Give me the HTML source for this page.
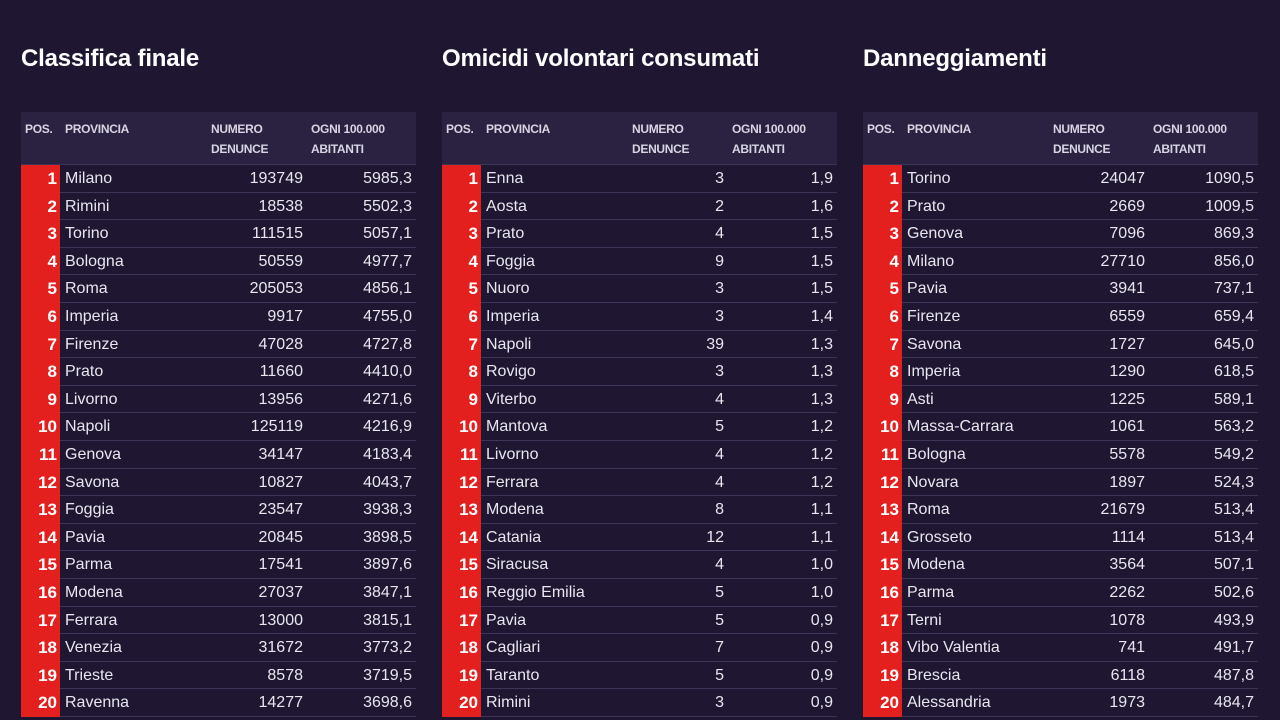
<!DOCTYPE html>
<html><head><meta charset="utf-8"><style>
body{margin:0;width:1280px;height:720px;background:#1f1731;overflow:hidden;font-family:"Liberation Sans",sans-serif;color:#e8e6ef;position:relative}
h2{position:absolute;top:45px;margin:0;font-size:24px;font-weight:bold;color:#fff;letter-spacing:-0.2px}
.t{position:absolute;top:112px;width:395px}
.hd{height:52px;background:#2a2240;position:relative;font-size:12px;font-weight:bold;color:#d8d4e4;border-bottom:1px solid #3d3558}
.hd span{position:absolute;top:7px;line-height:20px;letter-spacing:-0.3px}
.r{height:26.6px;border-bottom:1px solid #3d3558;position:relative;font-size:16px;line-height:28px}
.r b{position:absolute;left:0;top:0;width:39px;height:27.6px;background:#e4201f;text-align:right;padding-right:3px;box-sizing:border-box;color:#fff;font-size:17px}
.r .n{position:absolute;left:44px}
.r .a{position:absolute;right:113px}
.r .c{position:absolute;right:4px}
</style></head><body>
<h2 style="left:21px">Classifica finale</h2>
<h2 style="left:442px">Omicidi volontari consumati</h2>
<h2 style="left:863px">Danneggiamenti</h2>

<div class="t" style="left:21px">
<div class="hd"><span style="left:4px">POS.</span><span style="left:44px">PROVINCIA</span><span style="left:190px">NUMERO<br>DENUNCE</span><span style="left:290px">OGNI 100.000<br>ABITANTI</span></div>
<div class="r"><b>1</b><span class="n">Milano</span><span class="a">193749</span><span class="c">5985,3</span></div>
<div class="r"><b>2</b><span class="n">Rimini</span><span class="a">18538</span><span class="c">5502,3</span></div>
<div class="r"><b>3</b><span class="n">Torino</span><span class="a">111515</span><span class="c">5057,1</span></div>
<div class="r"><b>4</b><span class="n">Bologna</span><span class="a">50559</span><span class="c">4977,7</span></div>
<div class="r"><b>5</b><span class="n">Roma</span><span class="a">205053</span><span class="c">4856,1</span></div>
<div class="r"><b>6</b><span class="n">Imperia</span><span class="a">9917</span><span class="c">4755,0</span></div>
<div class="r"><b>7</b><span class="n">Firenze</span><span class="a">47028</span><span class="c">4727,8</span></div>
<div class="r"><b>8</b><span class="n">Prato</span><span class="a">11660</span><span class="c">4410,0</span></div>
<div class="r"><b>9</b><span class="n">Livorno</span><span class="a">13956</span><span class="c">4271,6</span></div>
<div class="r"><b>10</b><span class="n">Napoli</span><span class="a">125119</span><span class="c">4216,9</span></div>
<div class="r"><b>11</b><span class="n">Genova</span><span class="a">34147</span><span class="c">4183,4</span></div>
<div class="r"><b>12</b><span class="n">Savona</span><span class="a">10827</span><span class="c">4043,7</span></div>
<div class="r"><b>13</b><span class="n">Foggia</span><span class="a">23547</span><span class="c">3938,3</span></div>
<div class="r"><b>14</b><span class="n">Pavia</span><span class="a">20845</span><span class="c">3898,5</span></div>
<div class="r"><b>15</b><span class="n">Parma</span><span class="a">17541</span><span class="c">3897,6</span></div>
<div class="r"><b>16</b><span class="n">Modena</span><span class="a">27037</span><span class="c">3847,1</span></div>
<div class="r"><b>17</b><span class="n">Ferrara</span><span class="a">13000</span><span class="c">3815,1</span></div>
<div class="r"><b>18</b><span class="n">Venezia</span><span class="a">31672</span><span class="c">3773,2</span></div>
<div class="r"><b>19</b><span class="n">Trieste</span><span class="a">8578</span><span class="c">3719,5</span></div>
<div class="r"><b>20</b><span class="n">Ravenna</span><span class="a">14277</span><span class="c">3698,6</span></div>
</div>

<div class="t" style="left:442px">
<div class="hd"><span style="left:4px">POS.</span><span style="left:44px">PROVINCIA</span><span style="left:190px">NUMERO<br>DENUNCE</span><span style="left:290px">OGNI 100.000<br>ABITANTI</span></div>
<div class="r"><b>1</b><span class="n">Enna</span><span class="a">3</span><span class="c">1,9</span></div>
<div class="r"><b>2</b><span class="n">Aosta</span><span class="a">2</span><span class="c">1,6</span></div>
<div class="r"><b>3</b><span class="n">Prato</span><span class="a">4</span><span class="c">1,5</span></div>
<div class="r"><b>4</b><span class="n">Foggia</span><span class="a">9</span><span class="c">1,5</span></div>
<div class="r"><b>5</b><span class="n">Nuoro</span><span class="a">3</span><span class="c">1,5</span></div>
<div class="r"><b>6</b><span class="n">Imperia</span><span class="a">3</span><span class="c">1,4</span></div>
<div class="r"><b>7</b><span class="n">Napoli</span><span class="a">39</span><span class="c">1,3</span></div>
<div class="r"><b>8</b><span class="n">Rovigo</span><span class="a">3</span><span class="c">1,3</span></div>
<div class="r"><b>9</b><span class="n">Viterbo</span><span class="a">4</span><span class="c">1,3</span></div>
<div class="r"><b>10</b><span class="n">Mantova</span><span class="a">5</span><span class="c">1,2</span></div>
<div class="r"><b>11</b><span class="n">Livorno</span><span class="a">4</span><span class="c">1,2</span></div>
<div class="r"><b>12</b><span class="n">Ferrara</span><span class="a">4</span><span class="c">1,2</span></div>
<div class="r"><b>13</b><span class="n">Modena</span><span class="a">8</span><span class="c">1,1</span></div>
<div class="r"><b>14</b><span class="n">Catania</span><span class="a">12</span><span class="c">1,1</span></div>
<div class="r"><b>15</b><span class="n">Siracusa</span><span class="a">4</span><span class="c">1,0</span></div>
<div class="r"><b>16</b><span class="n">Reggio Emilia</span><span class="a">5</span><span class="c">1,0</span></div>
<div class="r"><b>17</b><span class="n">Pavia</span><span class="a">5</span><span class="c">0,9</span></div>
<div class="r"><b>18</b><span class="n">Cagliari</span><span class="a">7</span><span class="c">0,9</span></div>
<div class="r"><b>19</b><span class="n">Taranto</span><span class="a">5</span><span class="c">0,9</span></div>
<div class="r"><b>20</b><span class="n">Rimini</span><span class="a">3</span><span class="c">0,9</span></div>
</div>

<div class="t" style="left:863px">
<div class="hd"><span style="left:4px">POS.</span><span style="left:44px">PROVINCIA</span><span style="left:190px">NUMERO<br>DENUNCE</span><span style="left:290px">OGNI 100.000<br>ABITANTI</span></div>
<div class="r"><b>1</b><span class="n">Torino</span><span class="a">24047</span><span class="c">1090,5</span></div>
<div class="r"><b>2</b><span class="n">Prato</span><span class="a">2669</span><span class="c">1009,5</span></div>
<div class="r"><b>3</b><span class="n">Genova</span><span class="a">7096</span><span class="c">869,3</span></div>
<div class="r"><b>4</b><span class="n">Milano</span><span class="a">27710</span><span class="c">856,0</span></div>
<div class="r"><b>5</b><span class="n">Pavia</span><span class="a">3941</span><span class="c">737,1</span></div>
<div class="r"><b>6</b><span class="n">Firenze</span><span class="a">6559</span><span class="c">659,4</span></div>
<div class="r"><b>7</b><span class="n">Savona</span><span class="a">1727</span><span class="c">645,0</span></div>
<div class="r"><b>8</b><span class="n">Imperia</span><span class="a">1290</span><span class="c">618,5</span></div>
<div class="r"><b>9</b><span class="n">Asti</span><span class="a">1225</span><span class="c">589,1</span></div>
<div class="r"><b>10</b><span class="n">Massa-Carrara</span><span class="a">1061</span><span class="c">563,2</span></div>
<div class="r"><b>11</b><span class="n">Bologna</span><span class="a">5578</span><span class="c">549,2</span></div>
<div class="r"><b>12</b><span class="n">Novara</span><span class="a">1897</span><span class="c">524,3</span></div>
<div class="r"><b>13</b><span class="n">Roma</span><span class="a">21679</span><span class="c">513,4</span></div>
<div class="r"><b>14</b><span class="n">Grosseto</span><span class="a">1114</span><span class="c">513,4</span></div>
<div class="r"><b>15</b><span class="n">Modena</span><span class="a">3564</span><span class="c">507,1</span></div>
<div class="r"><b>16</b><span class="n">Parma</span><span class="a">2262</span><span class="c">502,6</span></div>
<div class="r"><b>17</b><span class="n">Terni</span><span class="a">1078</span><span class="c">493,9</span></div>
<div class="r"><b>18</b><span class="n">Vibo Valentia</span><span class="a">741</span><span class="c">491,7</span></div>
<div class="r"><b>19</b><span class="n">Brescia</span><span class="a">6118</span><span class="c">487,8</span></div>
<div class="r"><b>20</b><span class="n">Alessandria</span><span class="a">1973</span><span class="c">484,7</span></div>
</div>
</body></html>
